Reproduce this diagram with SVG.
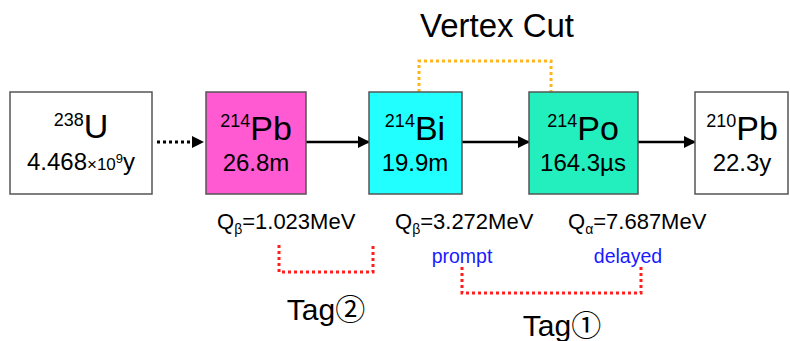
<svg xmlns="http://www.w3.org/2000/svg" width="790" height="341" viewBox="0 0 790 341">
<defs>
<style>
text{font-family:"Liberation Sans","Noto Sans CJK JP",Arial,sans-serif;fill:#000}
.box{stroke:#555;stroke-width:1.5}
.big{font-size:34px}
.sup{font-size:18px}
.half{font-size:24px}
.q{font-size:22px}
.qs{font-size:14px}
.blue{font-size:19.5px;fill:#1a1aff}
.tag{font-size:30px}
.arr{stroke:#000;stroke-width:2.5;fill:none}
.dot{stroke:#000;stroke-width:3;fill:none;stroke-dasharray:3 3}
.orange{stroke:#FFB61E;stroke-width:3;fill:none;stroke-dasharray:3 3}
.red{stroke:#FF1E1E;stroke-width:3;fill:none;stroke-dasharray:3 3}
</style>
<marker id="ah" markerWidth="12" markerHeight="12" refX="11" refY="6" orient="auto" markerUnits="userSpaceOnUse">
<path d="M0,0 L12,6 L0,12 z" fill="#000"/>
</marker>
</defs>
<rect width="790" height="341" fill="#fff"/>

<text x="497" y="37" text-anchor="middle" style="font-size:33px">Vertex Cut</text>

<g id="connectors">
<line class="dot" x1="157" y1="142" x2="196" y2="142"/>
<path d="M192,136 L204,142 L192,148 z" fill="#000"/>
<line class="arr" x1="306" y1="142" x2="369" y2="142" marker-end="url(#ah)"/>
<line class="arr" x1="462" y1="142" x2="529" y2="142" marker-end="url(#ah)"/>
<line class="arr" x1="638" y1="142" x2="695" y2="142" marker-end="url(#ah)"/>
<path class="orange" d="M419,92 V61 H551 V92"/>
<path class="red" d="M279,245 V272 H373 V245"/>
<path class="red" d="M462,267 V293 H641 V267"/>
</g>

<g id="node-U238">
<rect class="box" x="10" y="92" width="142" height="102" fill="#fff"/>
<text x="81" y="138" text-anchor="middle"><tspan class="sup" dy="-12">238</tspan><tspan class="big" dy="12">U</tspan></text>
<text x="81" y="170" text-anchor="middle"><tspan class="half">4.468</tspan><tspan style="font-size:17px">×10</tspan><tspan style="font-size:13px" dy="-7">9</tspan><tspan class="half" dy="7">y</tspan></text>
</g>

<g id="node-Pb214">
<rect class="box" x="206" y="92" width="100" height="102" fill="#FF5AD2"/>
<text x="256" y="140" text-anchor="middle"><tspan class="sup" dy="-13">214</tspan><tspan class="big" dy="13">Pb</tspan></text>
<text x="256" y="171" text-anchor="middle" class="half">26.8m</text>
</g>

<g id="node-Bi214">
<rect class="box" x="369" y="92" width="93" height="102" fill="#22FFFF"/>
<text x="415" y="140" text-anchor="middle"><tspan class="sup" dy="-13">214</tspan><tspan class="big" dy="13">Bi</tspan></text>
<text x="415" y="171" text-anchor="middle" class="half">19.9m</text>
</g>

<g id="node-Po214">
<rect class="box" x="529" y="92" width="109" height="102" fill="#22EEBE"/>
<text x="583" y="140" text-anchor="middle"><tspan class="sup" dy="-13">214</tspan><tspan class="big" dy="13">Po</tspan></text>
<text x="583" y="171" text-anchor="middle" class="half">164.3µs</text>
</g>

<g id="node-Pb210">
<rect class="box" x="695" y="92" width="93" height="102" fill="#fff"/>
<text x="742" y="140" text-anchor="middle"><tspan class="sup" dy="-13">210</tspan><tspan class="big" dy="13">Pb</tspan></text>
<text x="742" y="171" text-anchor="middle" class="half">22.3y</text>
</g>

<g id="labels">
<text x="217" y="229" class="q">Q<tspan class="qs" dy="5">β</tspan><tspan dy="-5">=1.023MeV</tspan></text>
<text x="395" y="229" class="q">Q<tspan class="qs" dy="5">β</tspan><tspan dy="-5">=3.272MeV</tspan></text>
<text x="568" y="229" class="q">Q<tspan class="qs" dy="5">α</tspan><tspan dy="-5">=7.687MeV</tspan></text>
<text x="462" y="263" text-anchor="middle" class="blue">prompt</text>
<text x="628" y="263" text-anchor="middle" class="blue">delayed</text>
<text x="326" y="320" text-anchor="middle" class="tag">Tag②</text>
<text x="562" y="336" text-anchor="middle" class="tag">Tag①</text>
</g>
</svg>
